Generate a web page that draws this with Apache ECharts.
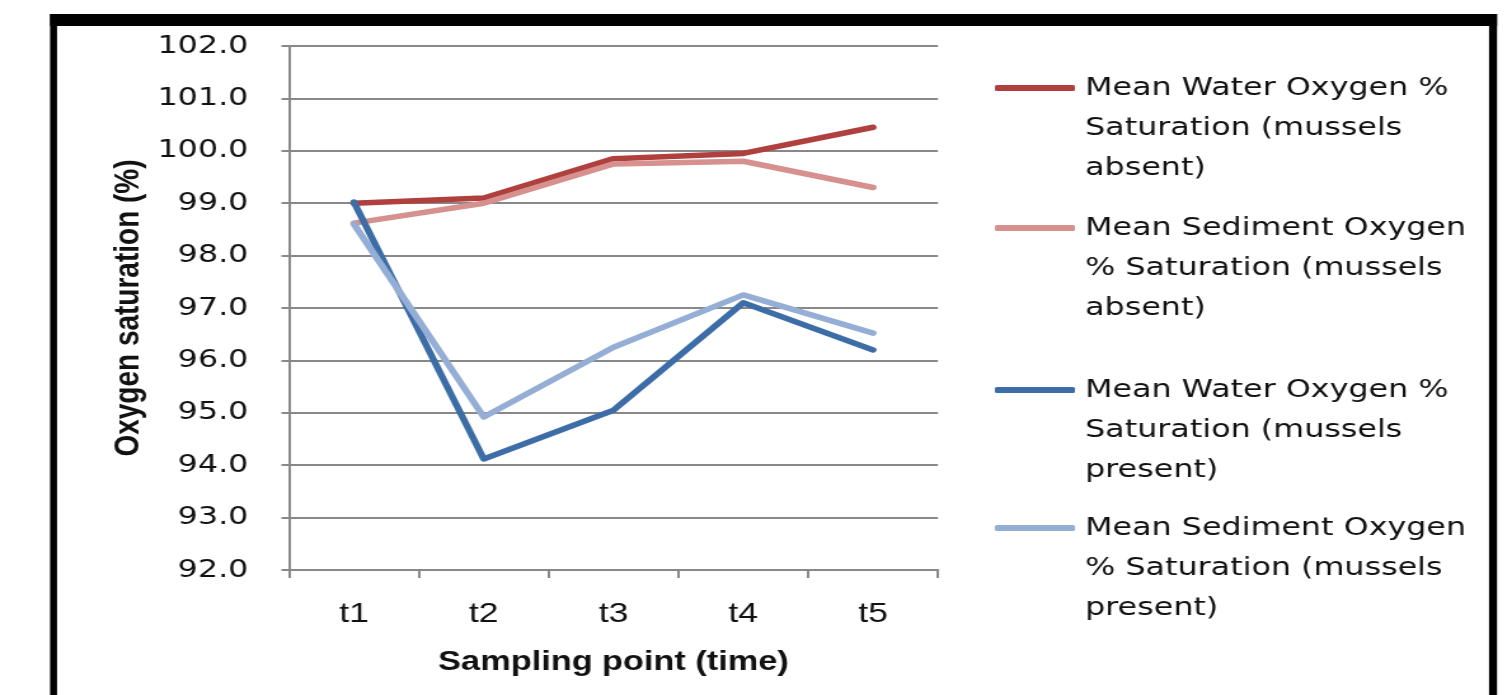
<!DOCTYPE html>
<html>
<head>
<meta charset="utf-8">
<script src="https://cdn.jsdelivr.net/npm/echarts@6/dist/echarts.min.js"></script>
<style>
  html, body { margin: 0; padding: 0; background: #ffffff; overflow: hidden; }
  #wrap { width: 1512px; height: 695px; overflow: hidden; }
  /* the chart is laid out on a narrower canvas and widened to the page */
  #chart { width: 1190px; height: 695px; transform: scaleX(1.2706); transform-origin: 0 0; }
</style>
</head>
<body>
<div id="wrap"><div id="chart"></div></div>
<script>
// Sampling points
const categories = ['t1', 't2', 't3', 't4', 't5'];

// Mean oxygen saturation (%) per sampling point
const waterAbsent     = [99.0, 99.1, 99.85, 99.95, 100.45];
const sedimentAbsent  = [98.62, 99.0, 99.75, 99.8, 99.3];
const waterPresent    = [99.02, 94.12, 95.05, 97.1, 96.2];
const sedimentPresent = [98.6, 94.92, 96.25, 97.25, 96.52];

const seriesNames = [
  'Mean Water Oxygen %\nSaturation (mussels\nabsent)',
  'Mean Sediment Oxygen\n% Saturation (mussels\nabsent)',
  'Mean Water Oxygen %\nSaturation (mussels\npresent)',
  'Mean Sediment Oxygen\n% Saturation (mussels\npresent)'
];
const seriesValues = [waterAbsent, sedimentAbsent, waterPresent, sedimentPresent];
const seriesColors = ['#B0403D', '#D6908E', '#3D6DA7', '#94AED5'];

// y axis range and step
const yMin = 92, yMax = 102, yStep = 1;

const chart = echarts.init(document.getElementById('chart'), null, { renderer: 'canvas' });

const gridGrey = '#888888';
// vertical position of each legend entry (icon sits on the first text line)
const legendTops = [-12, 128, 290, 428];

const option = {
  animation: false,
  backgroundColor: '#ffffff',
  grid: { left: 227.5, right: 451.8, top: 46, bottom: 125, containLabel: false },
  xAxis: {
    type: 'category',
    data: categories,
    boundaryGap: true,
    name: 'Sampling point (time)',
    nameLocation: 'middle',
    nameGap: 79,
    nameTextStyle: { fontFamily: 'Liberation Sans', fontWeight: 'bold', fontSize: 27, color: '#111' },
    axisLine: { lineStyle: { color: gridGrey, width: 2 } },
    axisTick: { show: true, length: 8, lineStyle: { color: gridGrey, width: 2 } },
    axisLabel: { margin: 30, fontFamily: 'Liberation Sans', fontSize: 28, color: '#111' },
    splitLine: { show: false }
  },
  yAxis: {
    type: 'value',
    min: yMin,
    max: yMax,
    interval: yStep,
    name: 'Oxygen saturation (%)',
    nameLocation: 'middle',
    nameGap: 112,
    nameRotate: 90,
    nameTextStyle: { fontFamily: 'Liberation Sans', fontWeight: 'bold', fontSize: 28, color: '#111' },
    axisLine: { show: true, lineStyle: { color: gridGrey, width: 2 } },
    axisTick: { show: true, length: 6, lineStyle: { color: gridGrey, width: 2 } },
    axisLabel: {
      margin: 32,
      fontFamily: 'DejaVu Sans',
      fontSize: 25,
      color: '#111',
      formatter: v => v.toFixed(1)
    },
    splitLine: { show: true, lineStyle: { color: gridGrey, width: 2 } }
  },
  legend: seriesNames.map((n, i) => ({
    data: [n],
    left: 783,
    top: legendTops[i],
    padding: 0,
    icon: 'roundRect',
    itemWidth: 63,
    itemHeight: 6,
    selectedMode: false,
    // two leading empty lines keep the icon level with the first line of the name
    formatter: name => '\n\n' + name,
    textStyle: {
      fontFamily: 'DejaVu Sans',
      fontSize: 25,
      lineHeight: 40,
      color: '#111',
      padding: [0, 0, 0, 3]
    }
  })),
  series: seriesNames.map((n, i) => ({
    name: n,
    type: 'line',
    data: seriesValues[i],
    symbol: 'none',
    color: seriesColors[i],
    lineStyle: { width: 5.5, color: seriesColors[i], cap: 'round', join: 'round' },
    itemStyle: { color: seriesColors[i] },
    z: 2 + i
  })),
  graphic: [
    // outer frame: heavy top rule with side rules
    { type: 'rect', shape: { x: 39.4, y: 14, width: 1178.2 - 39.4, height: 12 }, style: { fill: '#000' }, z: 100 },
    { type: 'rect', shape: { x: 39.4, y: 14, width: 5.5, height: 690 }, style: { fill: '#000' }, z: 100 },
    { type: 'rect', shape: { x: 1171.9, y: 14, width: 6.3, height: 690 }, style: { fill: '#000' }, z: 100 }
  ]
};

chart.setOption(option);
</script>
</body>
</html>
